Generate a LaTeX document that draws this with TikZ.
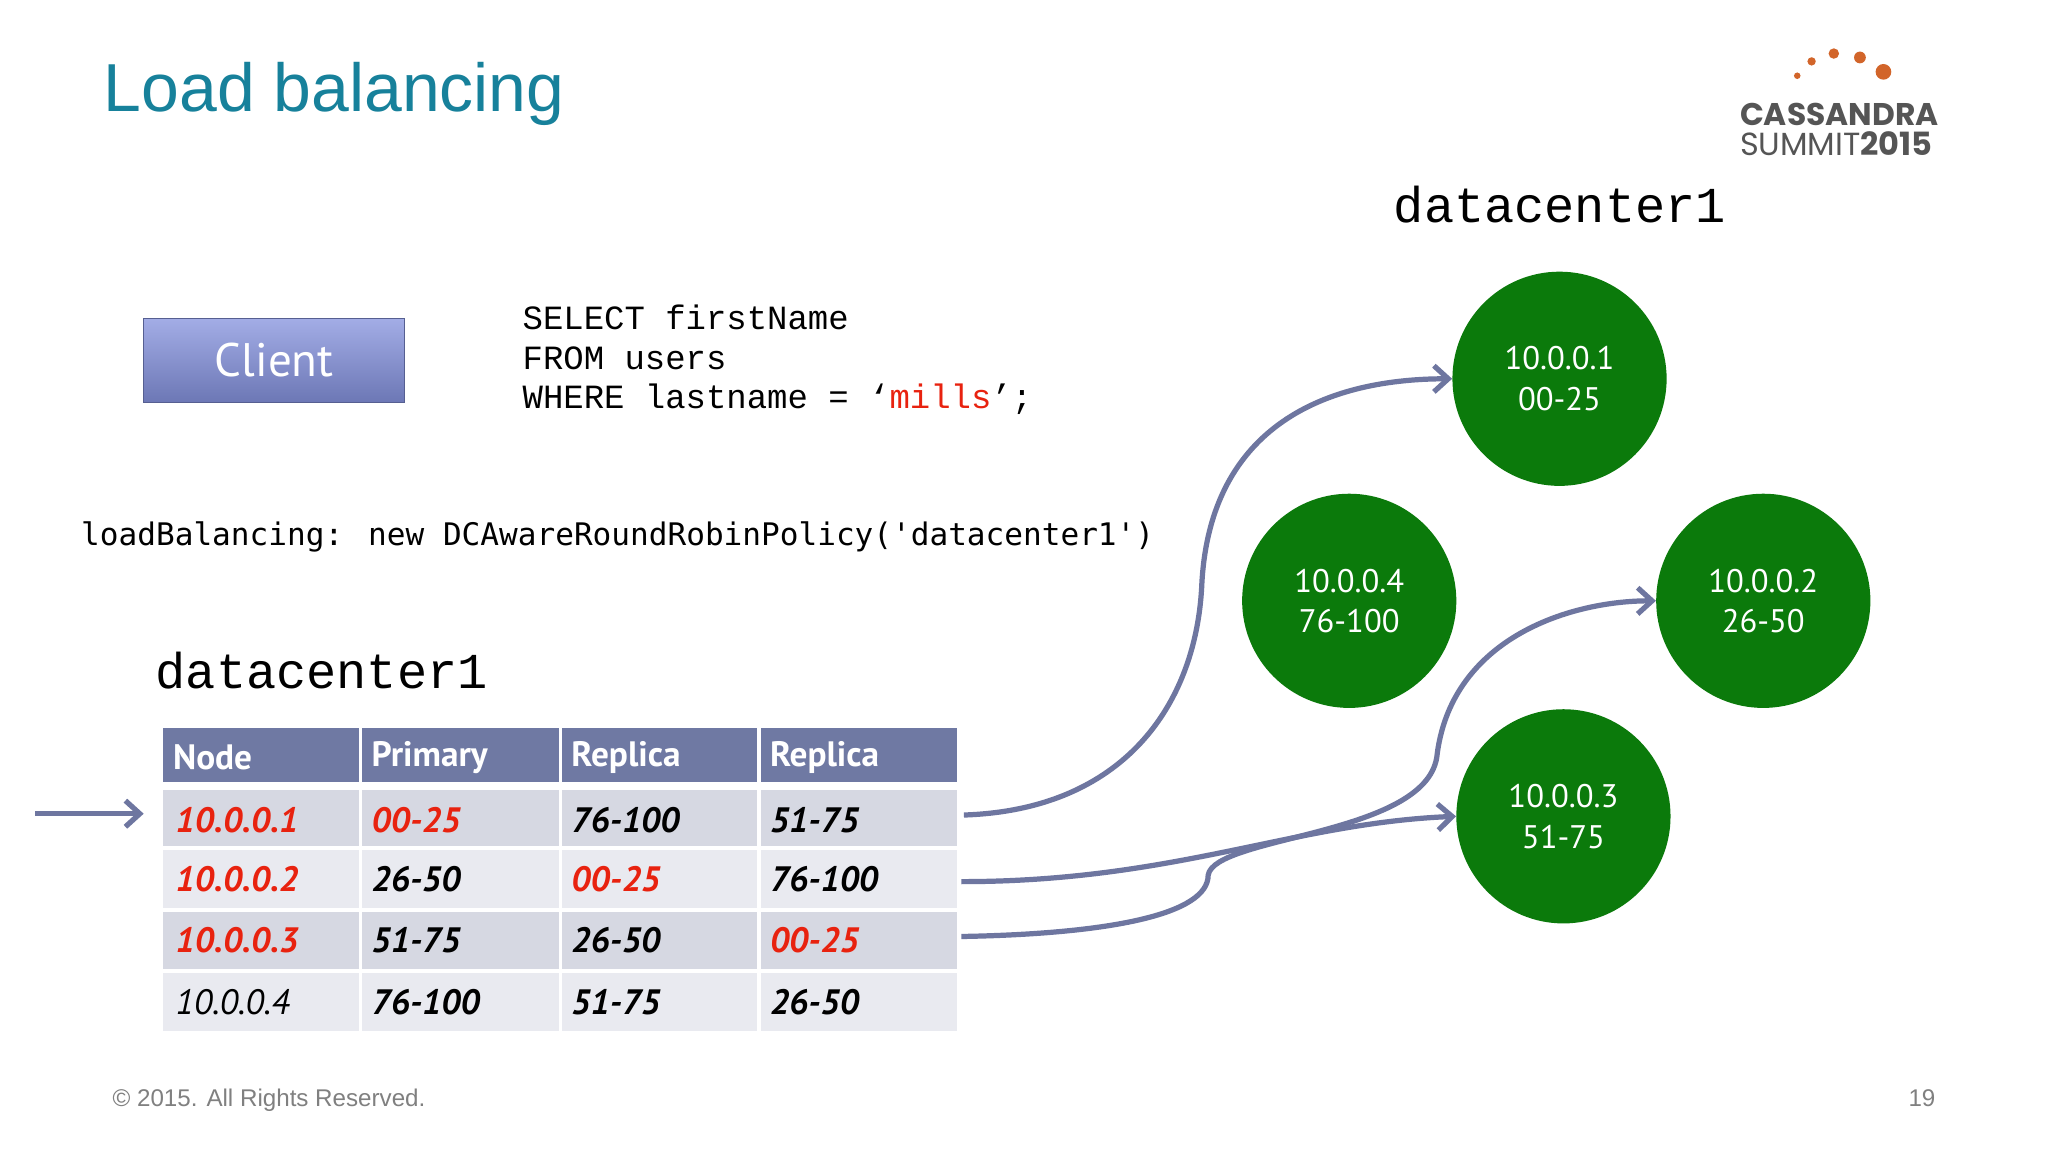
\documentclass[tikz,border=0pt]{standalone}
\usepackage{fontspec}
\setmainfont{PT Sans}
\newfontfamily\helv{Liberation Sans}
\newfontfamily\cour{Liberation Mono}
\newfontfamily\dvm{DejaVu Sans Mono}
\newfontfamily\gill{PT Sans}
\usetikzlibrary{arrows.meta}
\definecolor{teal1}{HTML}{17819B}
\definecolor{hdr}{HTML}{6F79A3}
\definecolor{rowa}{HTML}{D6D8E2}
\definecolor{rowb}{HTML}{E9EAF0}
\definecolor{arr}{HTML}{6E76A0}
\definecolor{cgreen}{HTML}{0B7A0B}
\definecolor{red1}{HTML}{E8220F}
\definecolor{logo}{HTML}{555555}
\definecolor{orng}{HTML}{D2652A}
\definecolor{cltop}{HTML}{A3ADE6}
\definecolor{clbot}{HTML}{6C77B5}
\begin{document}
\begin{tikzpicture}[x=1pt,y=-1pt,
  cell/.style={anchor=west,font=\gill\fontsize{27}{28}\selectfont\bfseries\itshape},
  hcell/.style={anchor=west,text=white,font=\gill\fontsize{27}{28}\selectfont\bfseries},
  dc/.style={circle,fill=cgreen,minimum size=164pt,inner sep=0pt,text=white,align=center,font=\gill\fontsize{25}{31}\selectfont},
  link/.style={arr,line width=4pt,-{Straight Barb[length=11pt,width=20pt,line width=4pt]}}]
\useasboundingbox[fill=white] (0,0) rectangle (1568,882);
\node[anchor=base west,text=teal1,font=\helv\fontsize{52}{60}\selectfont] (title) at (76,85) {Load balancing};
% logo
\foreach \x/\y/\r in {1376/58/2.5,1387/47/3.2,1404/41/4,1424/44/4.5,1442/55/6}
  \fill[orng] (\x,\y) circle (\r);
\node[anchor=base west,inner sep=0,text=logo,font=\fontspec{Poppins}\fontsize{24}{24}\selectfont\bfseries] (l1) at (1332,96) {CASSANDRA};
\node[anchor=base west,inner sep=0,text=logo,font=\fontspec{Poppins}\fontsize{24.5}{24}\selectfont] (l2) at (1332,119) {SUMMIT\textbf{2015}};
\node[anchor=base west,inner sep=0,font=\cour\fontsize{38.5}{40}\selectfont] (dcr) at (1067,170) {datacenter1};
% client
\node[minimum width=200pt,minimum height=65pt,top color=cltop,bottom color=clbot,draw=clbot!80!black,line width=0.8pt,text=white,font=\gill\fontsize{36}{40}\selectfont] (client) at (210,276) {Client};
\node[anchor=north west,inner sep=0,align=left,font=\cour\fontsize{26}{30.5}\selectfont] (sql) at (400,233) {SELECT firstName\\FROM users\\WHERE lastname = \char"2018{\color{red1}mills}\char"2019;};
\node[anchor=base west,inner sep=0,font=\dvm\fontsize{23.8}{26}\selectfont] (lb) at (62,418) {loadBalancing: new DCAwareRoundRobinPolicy('datacenter1')};
\node[anchor=base west,inner sep=0,font=\cour\fontsize{38.5}{40}\selectfont] (dcl) at (119,527) {datacenter1};
% table
\fill[hdr] (125,557) rectangle (733,599);
\fill[rowa] (125,605) rectangle (733,648);
\fill[rowb] (125,651) rectangle (733,695);
\fill[rowa] (125,698) rectangle (733,742);
\fill[rowb] (125,745) rectangle (733,789);
\foreach \x in {276,429,581} \draw[white,line width=2.5pt] (\x,557) -- (\x,789);
\node[hcell] at (129,580) {Node};
\node[hcell] at (281,580) {Primary};
\node[hcell] at (434,580) {Replica};
\node[hcell] at (586,580) {Replica};
\node[cell,text=red1] (r1) at (131,628) {10.0.0.1};
\node[cell,text=red1] at (281,628) {00-25};
\node[cell] at (434,628) {76-100};
\node[cell] at (586,628) {51-75};
\node[cell,text=red1] (r2) at (131,673) {10.0.0.2};
\node[cell] at (281,673) {26-50};
\node[cell,text=red1] at (434,673) {00-25};
\node[cell] at (586,673) {76-100};
\node[cell,text=red1] (r3) at (131,720) {10.0.0.3};
\node[cell] at (281,720) {51-75};
\node[cell] at (434,720) {26-50};
\node[cell,text=red1] at (586,720) {00-25};
\node[cell,font=\gill\fontsize{27}{28}\selectfont\itshape] (r4) at (131,767) {10.0.0.4};
\node[cell] at (281,767) {76-100};
\node[cell] at (434,767) {51-75};
\node[cell] at (586,767) {26-50};
% circles
\node[dc] (c1) at (1194,290) {10.0.0.1\\00-25};
\node[dc] (c4) at (1033,460) {10.0.0.4\\76-100};
\node[dc] (c2) at (1350,460) {10.0.0.2\\26-50};
\node[dc] (c3) at (1197,625) {10.0.0.3\\51-75};
% connectors
\coordinate (ain) at (27,623);
\coordinate (ao) at (110,623);
\coordinate (s1) at (738,624);
\coordinate (s2) at (736,675);
\coordinate (s3) at (736,717);
\draw[link] (ain) -- (ao);
\draw[link] (s1) .. controls (860,620) and (915,540) .. (920,450) .. controls (925,330) and (1010,290) .. (c1.west);
\draw[link] (s2) .. controls (900,675) and (990,630) .. (c3.west);
\draw[link] (s3) .. controls (850,715) and (925,700) .. (925,670) .. controls (930,640) and (1090,640) .. (1100,580) .. controls (1110,490) and (1200,460) .. (c2.west);
% footer
\node[anchor=base west,inner sep=0,text=gray,font=\helv\fontsize{18.5}{20}\selectfont] (copy) at (86,847) {\textcopyright{} 2015. All Rights Reserved.};
\node[anchor=base east,inner sep=0,text=gray,font=\helv\fontsize{18.5}{20}\selectfont] (pg) at (1482,847) {19};
\end{tikzpicture}
\end{document}
